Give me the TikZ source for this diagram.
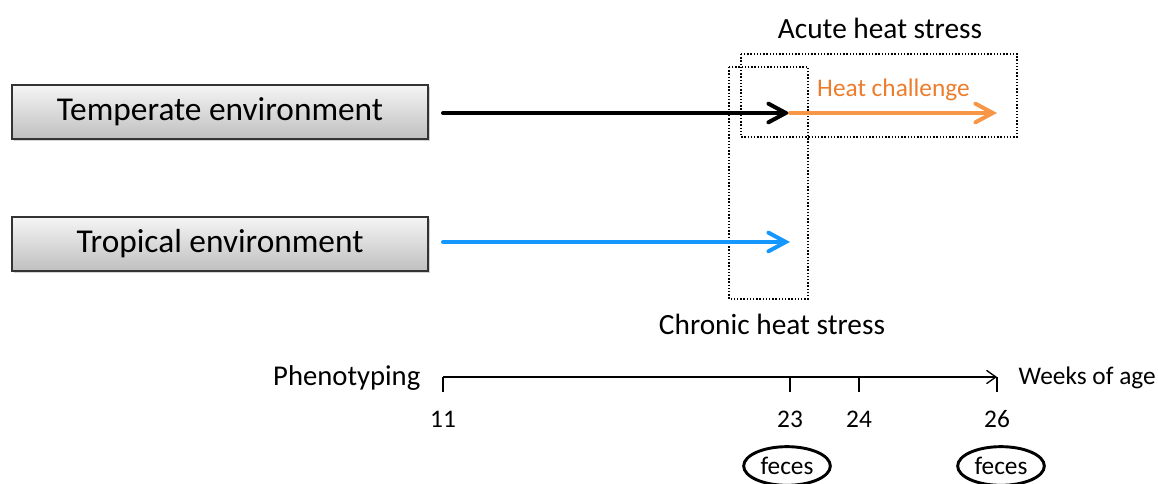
\documentclass[tikz,border=0pt]{standalone}
\usepackage{fontspec}
\setmainfont{Carlito}
\usepackage{tikz}
\usetikzlibrary{arrows.meta,shadows,shapes.geometric,positioning}

\definecolor{heatorange}{RGB}{247,150,70}
\definecolor{heattext}{RGB}{236,125,45}
\definecolor{tropblue}{RGB}{20,152,255}

\begin{document}
\begin{tikzpicture}[x=0.75pt,y=-0.75pt,node distance=99pt,
    envbox/.style={draw=black!80, line width=1.1pt, top color=black!4, bottom color=black!25,
        minimum width=312pt, minimum height=40.5pt, inner sep=0pt,
        drop shadow={shadow xshift=1.2pt, shadow yshift=-1.2pt, opacity=0.35},
        font=\fontsize{25}{28}\selectfont},
    thick arrow/.style={line width=3pt, line cap=round,
        -{Straight Barb[length=13pt, width=14pt, line cap=round]}},
    stressbox/.style={draw, line width=1.1pt, dash pattern=on 1.1pt off 1.3pt},
    stresslabel/.style={font=\fontsize{22}{26}\selectfont},
    tick label/.style={font=\fontsize{19}{22}\selectfont},
    sample/.style={ellipse, draw, line width=2.2pt, minimum width=65pt, minimum height=29pt,
        inner sep=0pt, font=\fontsize{19}{22}\selectfont}]
            \useasboundingbox (0,0) rectangle (1158,484);

            \node[envbox]                    (temperate) at (220,112)  {Temperate environment};
            \node[envbox] [below of=temperate] (tropical)              {Tropical environment};

            % stress windows
            \draw[stressbox] (741,54) rectangle (1017,137);
            \draw[stressbox] (729,67) rectangle (808,299);
            \node[stresslabel] (acute)   at (880,28)  {Acute heat stress};
            \node[stresslabel] (chronic) at (772,324) {Chronic heat stress};

            \coordinate (tempstart) at (443,113);
            \coordinate (tempend)   at (790,113);
            \coordinate (heatend)   at (997,113);
            \coordinate (tropstart) at (443,242);
            \coordinate (tropend)   at (790,242);

            \path
                (tempstart) edge [thick arrow, black] (tempend)
                (tempend)   edge [thick arrow, heatorange] node [above=4pt, text=heattext,
                                  font=\fontsize{19}{22}\selectfont] {Heat challenge} (heatend)
                (tropstart) edge [thick arrow, tropblue] (tropend);

            % time axis
            \coordinate (axstart) at (443,377);
            \coordinate (axend)   at (997,377);
            \draw[line width=1pt, -{Straight Barb[length=7pt, width=10pt]}] (axstart) -- (axend);
            \node[anchor=east, font=\fontsize{21.5}{24}\selectfont] (pheno) at (425,378) {Phenotyping};
            \node[anchor=west, font=\fontsize{19}{22}\selectfont]   (weeks) at (1014,378) {Weeks of age};
            \foreach \wk/\xx in {11/443, 23/790, 24/859, 26/997} {
                \draw[line width=1pt] (\xx,377) -- (\xx,392);
                \node[tick label] (wk\wk) at (\xx,419) {\wk};
            }

            \node[sample] (feces23) at (787,466)  {feces};
            \node[sample] (feces26) at (1001,466) {feces};
        \end{tikzpicture}
\end{document}
